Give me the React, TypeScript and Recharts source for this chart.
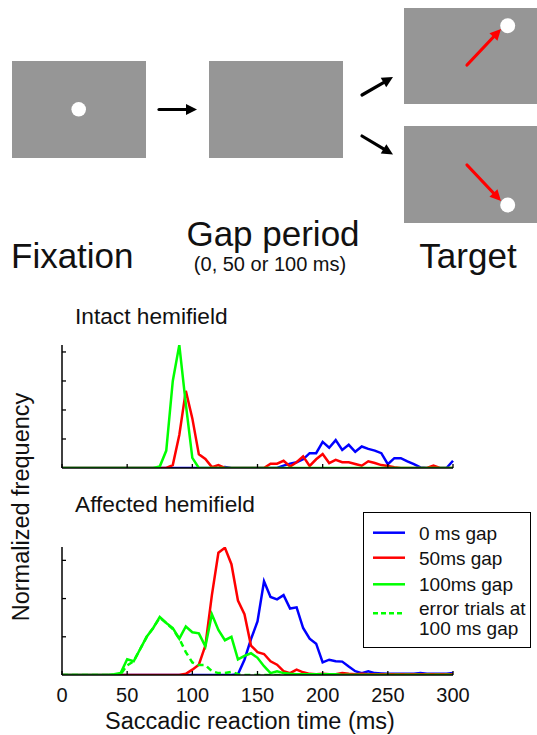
import { LineChart, Line, XAxis, YAxis, Legend } from 'recharts'

// ─── Data ────────────────────────────────────────────────────────────────────

// Saccadic reaction time bins (ms)
const rtBins = [
  0, 5, 10, 15, 20, 25, 30, 35, 40, 45, 50, 55, 60, 65, 70, 75, 80, 85, 90, 95,
  100, 105, 110, 115, 120, 125, 130, 135, 140, 145, 150, 155, 160, 165, 170, 175, 180, 185, 190, 195,
  200, 205, 210, 215, 220, 225, 230, 235, 240, 245, 250, 255, 260, 265, 270, 275, 280, 285, 290, 295,
  300,
]

// Intact hemifield
const intactGap0 = [
  0, 0, 0, 0, 0, 0, 0, 0, 0, 0, 0, 0, 0, 0, 0, 0, 0, 0, 0, 0,
  0, 0, 0, 0, 0, 0.03, 0, 0, 0, 0, 0, 0, 0, 0, 0.08, 0.15, 0.2, 0.3, 0.51, 0.51,
  0.9, 0.7, 0.96, 0.62, 0.8, 0.56, 0.74, 0.66, 0.6, 0.51, 0.13, 0.34, 0.34, 0.23, 0.13, 0.02, 0, 0, 0, 0,
  0.25,
]
const intactGap50 = [
  0, 0, 0, 0, 0, 0, 0, 0, 0, 0, 0, 0, 0, 0, 0, 0, 0, 0.1, 1.14, 2.66,
  1.71, 0.47, 0.31, 0.03, 0.1, 0, 0, 0, 0, 0, 0, 0, 0.15, 0.15, 0.25, 0.05, 0.2, 0.4, 0.07, 0.3,
  0.48, 0.17, 0.28, 0.2, 0.2, 0.14, 0.08, 0.23, 0.17, 0.1, 0.07, 0.03, 0, 0, 0, 0, 0, 0.08, 0, 0,
  0,
]
const intactGap100 = [
  0, 0, 0, 0, 0, 0, 0, 0, 0, 0, 0, 0, 0, 0, 0, 0.05, 0.6, 3.0, 4.24, 2.2,
  0.35, 0, 0, 0, 0, 0, 0, 0, 0, 0, 0, 0, 0, 0, 0, 0, 0, 0, 0, 0,
  0, 0, 0, 0, 0, 0, 0, 0, 0, 0, 0, 0, 0, 0, 0, 0, 0, 0, 0, 0,
  0,
]

// Affected hemifield
const affectedGap0 = [
  0, 0, 0, 0, 0, 0, 0, 0, 0, 0, 0, 0, 0, 0, 0, 0, 0, 0, 0, 0,
  0, 0, 0, 0, 0, 0, 0, 0.02, 0.4, 0.94, 1.4, 2.45, 2.04, 1.98, 2.09, 1.74, 1.77, 1.23, 0.95, 0.82,
  0.33, 0.4, 0.36, 0.35, 0.22, 0.1, 0.05, 0.1, 0.05, 0.04, 0.03, 0.03, 0.03, 0.03, 0.03, 0.05, 0.03, 0.03, 0.03, 0.03,
  0.05,
]
const affectedGap50 = [
  0, 0, 0, 0, 0, 0, 0, 0, 0, 0, 0, 0, 0, 0, 0, 0, 0, 0, 0, 0.03,
  0.14, 0.27, 0.77, 2.09, 3.2, 3.33, 2.9, 1.95, 1.59, 0.77, 0.6, 0.55, 0.36, 0.27, 0.1, 0.05, 0.14, 0.07, 0.03, 0.02,
  0.03, 0.02, 0.02, 0.05, 0.03, 0.02, 0.03, 0.02, 0.02, 0.02, 0.02, 0.02, 0.02, 0.02, 0.02, 0.02, 0.02, 0.02, 0.02, 0.02,
  0.02,
]
const affectedGap100 = [
  0, 0, 0, 0, 0, 0, 0, 0, 0.02, 0.05, 0.41, 0.36, 0.68, 1.0, 1.23, 1.52, 1.36, 1.23, 0.95, 1.27,
  1.12, 1.09, 0.75, 1.59, 1.18, 0.91, 1.0, 0.41, 0.5, 0.57, 0.45, 0.23, 0.05, 0.1, 0.05, 0.03, 0.02, 0.02, 0.02, 0.02,
  0.02, 0.02, 0.02, 0, 0, 0, 0, 0, 0, 0, 0, 0, 0, 0, 0, 0, 0, 0, 0, 0,
  0,
]
const affectedErrors100 = [
  0, 0, 0, 0, 0, 0, 0, 0, 0, 0.02, 0.25, 0.36, 0.68, 1.0, 1.23, 1.5, 1.36, 1.2, 0.95, 0.6,
  0.33, 0.26, 0.26, 0.1, 0.05, 0.05, 0.08, 0.02, 0, 0, 0, 0, 0, 0, 0, 0, 0, 0, 0, 0,
  0, 0, 0, 0, 0, 0, 0, 0, 0, 0, 0, 0, 0, 0, 0, 0, 0, 0, 0, 0,
  0,
]

const xTicks = [0, 50, 100, 150, 200, 250, 300]
const intactYTicks = [1, 2, 3, 4]
const affectedYTicks = [1, 2, 3]

const legendItems = [
  { label: ['0 ms gap'], color: '#0000ff', dashed: false, y: 20.7 },
  { label: ['50ms gap'], color: '#ff0000', dashed: false, y: 45.7 },
  { label: ['100ms gap'], color: '#00ff00', dashed: false, y: 72.3 },
  { label: ['error trials at', '100 ms gap'], color: '#00ff00', dashed: true, y: 101.3 },
]

// ─── Helpers ─────────────────────────────────────────────────────────────────

const FONT = '"Liberation Sans", Arial, Helvetica, sans-serif'
const TEXT = '#111'

const intactData = rtBins.map((rt, i) => ({
  rt,
  gap0: intactGap0[i],
  gap50: intactGap50[i],
  gap100: intactGap100[i],
}))

const affectedData = rtBins.map((rt, i) => ({
  rt,
  gap0: affectedGap0[i],
  gap50: affectedGap50[i],
  gap100: affectedGap100[i],
  err100: affectedErrors100[i],
}))

// inward-pointing tick, optional label underneath
function XTick(props: any) {
  const { x, y, payload, showLabel } = props
  return (
    <g>
      <line x1={x} x2={x} y1={y} y2={y - 4} stroke="#000" strokeWidth={1.3} />
      {showLabel && (
        <text x={x} y={y + 27} textAnchor="middle" fontSize={20} fill={TEXT} fontFamily={FONT}>
          {payload.value}
        </text>
      )}
    </g>
  )
}

function YTick(props: any) {
  const { x, y } = props
  return <line x1={x} x2={x + 4} y1={y} y2={y} stroke="#000" strokeWidth={1.3} />
}

function LegendBox() {
  return (
    <svg width={169} height={137} style={{ display: 'block' }}>
      <rect x={0.5} y={0.5} width={167} height={135} fill="#fff" stroke="#000" strokeWidth={1} />
      {legendItems.map((item) => (
        <g key={item.label[0]}>
          <line
            x1={10}
            x2={42}
            y1={item.y}
            y2={item.y}
            stroke={item.color}
            strokeWidth={2.5}
            strokeDasharray={item.dashed ? '5 3' : undefined}
          />
          {item.label.map((t, j) => (
            <text
              key={t}
              x={56}
              y={item.label.length > 1 ? item.y + 2 + j * 20 : item.y + 7}
              fontSize={19}
              fill={TEXT}
              fontFamily={FONT}
            >
              {t}
            </text>
          ))}
        </g>
      ))}
    </svg>
  )
}

// ─── Schematic ───────────────────────────────────────────────────────────────

function Arrow({ x1, y1, x2, y2, color }: { x1: number; y1: number; x2: number; y2: number; color: string }) {
  const ang = Math.atan2(y2 - y1, x2 - x1)
  const len = 11
  const half = 5.5
  const bx = x2 - len * Math.cos(ang)
  const by = y2 - len * Math.sin(ang)
  const px = -Math.sin(ang) * half
  const py = Math.cos(ang) * half
  return (
    <g>
      <line x1={x1} y1={y1} x2={bx + Math.cos(ang)} y2={by + Math.sin(ang)} stroke={color} strokeWidth={3.2} strokeLinecap="round" />
      <polygon points={`${x2},${y2} ${bx + px},${by + py} ${bx - px},${by - py}`} fill={color} />
    </g>
  )
}

function Schematic() {
  const gray = '#969696'
  return (
    <svg width={537} height={300} style={{ position: 'absolute', left: 0, top: 0 }}>
      <rect x={12} y={61} width={134} height={97} fill={gray} />
      <circle cx={78.7} cy={109.3} r={7.3} fill="#fff" />
      <Arrow x1={159} y1={109.5} x2={197} y2={109.5} color="#000" />

      <rect x={209} y={61} width={134} height={97} fill={gray} />
      <Arrow x1={362} y1={95} x2={393} y2={77} color="#000" />
      <Arrow x1={362} y1={136} x2={393} y2={154.5} color="#000" />

      <rect x={404} y={8} width={133} height={96} fill={gray} />
      <circle cx={507.7} cy={25.7} r={7.5} fill="#fff" />
      <Arrow x1={467} y1={65} x2={501} y2={29} color="#ff0000" />

      <rect x={404} y={126} width={133} height={97} fill={gray} />
      <circle cx={507.7} cy={205} r={7.5} fill="#fff" />
      <Arrow x1={467} y1={165} x2={501} y2={201} color="#ff0000" />

      <text x={11} y={268} fontSize={35} fill={TEXT} fontFamily={FONT}>Fixation</text>
      <text x={273} y={246} fontSize={35} fill={TEXT} fontFamily={FONT} textAnchor="middle">Gap period</text>
      <text x={270} y={271} fontSize={20} fill={TEXT} fontFamily={FONT} textAnchor="middle">(0, 50 or 100 ms)</text>
      <text x={468} y={268} fontSize={35} fill={TEXT} fontFamily={FONT} textAnchor="middle">Target</text>
    </svg>
  )
}

// ─── Component ────────────────────────────────────────────────────────────────

const lineProps = {
  type: 'linear' as const,
  dot: false,
  activeDot: false,
  strokeWidth: 2.5,
  isAnimationActive: false,
}

const axisLine = { stroke: '#000', strokeWidth: 1.5 }

export default function App() {
  return (
    <div
      style={{
        position: 'absolute',
        left: 0,
        top: 0,
        width: 537,
        height: 735,
        background: '#fff',
        fontFamily: FONT,
        overflow: 'hidden',
      }}
    >
      <Schematic />

      <div style={{ position: 'absolute', left: 75, top: 303, fontSize: 22.7, color: TEXT }}>Intact hemifield</div>
      <div style={{ position: 'absolute', left: 75, top: 491, fontSize: 22.7, color: TEXT }}>Affected hemifield</div>

      {/* Intact hemifield histogram */}
      <div style={{ position: 'absolute', left: 0, top: 330 }}>
        <LineChart width={537} height={150} data={intactData} margin={{ top: 15, right: 84, bottom: 2, left: 52 }}>
          <XAxis
            type="number"
            dataKey="rt"
            domain={[0, 300]}
            ticks={xTicks}
            height={10}
            tickSize={0}
            tickMargin={0}
            tickLine={false}
            tick={<XTick showLabel={false} />}
            axisLine={axisLine}
          />
          <YAxis
            type="number"
            domain={[0, 4.24]}
            ticks={intactYTicks}
            width={10}
            tickSize={0}
            tickMargin={0}
            tickLine={false}
            tick={<YTick />}
            axisLine={axisLine}
            allowDataOverflow
          />
          <Line {...lineProps} dataKey="gap0" stroke="#0000ff" />
          <Line {...lineProps} dataKey="gap50" stroke="#ff0000" />
          <Line {...lineProps} dataKey="gap100" stroke="#00ff00" />
        </LineChart>
      </div>

      {/* Affected hemifield histogram */}
      <div style={{ position: 'absolute', left: 0, top: 530 }}>
        <LineChart width={537} height={180} data={affectedData} margin={{ top: 17, right: 84, bottom: 5, left: 52 }}>
          <XAxis
            type="number"
            dataKey="rt"
            domain={[0, 300]}
            ticks={xTicks}
            height={30}
            tickSize={0}
            tickMargin={0}
            tickLine={false}
            tick={<XTick showLabel />}
            axisLine={axisLine}
          />
          <YAxis
            type="number"
            domain={[0, 3.35]}
            ticks={affectedYTicks}
            width={10}
            tickSize={0}
            tickMargin={0}
            tickLine={false}
            tick={<YTick />}
            axisLine={axisLine}
            allowDataOverflow
          />
          <Line {...lineProps} dataKey="gap0" stroke="#0000ff" />
          <Line {...lineProps} dataKey="gap50" stroke="#ff0000" />
          <Line {...lineProps} dataKey="gap100" stroke="#00ff00" />
          <Line {...lineProps} dataKey="err100" stroke="#00ff00" strokeDasharray="6 4" />
          <Legend
            layout="horizontal"
            verticalAlign="middle"
            align="center"
            wrapperStyle={{ left: 363, top: -18, width: 169, height: 137 }}
            content={() => <LegendBox />}
          />
        </LineChart>
      </div>

      <svg width={537} height={735} style={{ position: 'absolute', left: 0, top: 0, pointerEvents: 'none' }}>
        <text
          x={0}
          y={0}
          transform="translate(29 507) rotate(-90)"
          textAnchor="middle"
          fontSize={23.5}
          fill={TEXT}
          fontFamily={FONT}
        >
          Normalized frequency
        </text>
        <text x={250} y={729} textAnchor="middle" fontSize={23.5} fill={TEXT} fontFamily={FONT}>
          Saccadic reaction time (ms)
        </text>
      </svg>
    </div>
  )
}
